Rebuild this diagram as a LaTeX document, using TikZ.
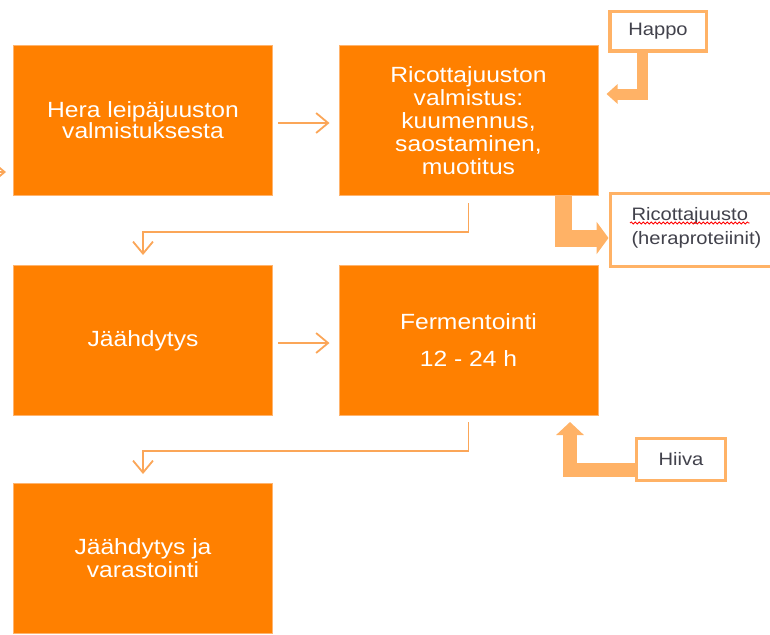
\documentclass[tikz,border=0pt]{standalone}
\usepackage{fontspec}
\setmainfont{Liberation Sans}
\newfontfamily\boxfont[FakeStretch=1.12]{Liberation Sans}
\usetikzlibrary{arrows.meta,decorations.pathmorphing}

\definecolor{boxorange}{RGB}{255,128,0}
\definecolor{boxedge}{RGB}{255,180,110}
\definecolor{flowline}{RGB}{251,166,88}
\definecolor{blockline}{RGB}{255,178,102}
\definecolor{labeltext}{RGB}{66,66,76}

\begin{document}
\begin{tikzpicture}[x=1pt,y=-1pt]

    \tikzset{
      stepbox/.style={
        draw=boxedge,
        fill=boxorange,
        line width=1pt,
        minimum width=259pt,
        minimum height=150pt,
        inner sep=0pt,
        align=center,
        text=white,
        font=\boxfont\fontsize{22}{23}\selectfont,
      },
      inputbox/.style={
        draw=blockline,
        fill=white,
        line width=3pt,
        inner sep=0pt,
        text=labeltext,
        font=\boxfont\fontsize{18}{20}\selectfont,
      },
      flow/.style={
        draw=flowline,
        line width=1.8pt,
        -{Straight Barb[length=12pt,width=20pt]},
      },
      block/.style={
        draw=blockline,
        line join=miter,
      },
    }
    \useasboundingbox (0,0) rectangle (770,634);

    % process steps
    \node[stepbox] (hera) at (143,120.5) {Hera leipäjuuston\\[-2pt]valmistuksesta};
    \node[stepbox] (ricotta) at (468.5,120.5) {Ricottajuuston\\valmistus:\\kuumennus,\\saostaminen,\\muotitus};
    \node[stepbox] (cooling) at (143,340.5) {Jäähdytys};
    \node[stepbox] (ferment) at (468.5,340.5) {Fermentointi\\[14pt]12 - 24 h};
    \node[stepbox] (storage) at (143,558.5) {Jäähdytys ja\\varastointi};

    % inputs and outputs
    \node[inputbox, line width=3.5pt, minimum width=96.5pt, minimum height=39.5pt] (acid) at (658,31.5) {Happo};
    \node[inputbox, minimum width=180pt, minimum height=73pt] (product) at (700,230) {};
    \node[inputbox, draw=none, fill=none, anchor=base west] (ricname) at (630,220) {Ricottajuusto};
    \node[inputbox, draw=none, fill=none, anchor=base west] (ricsub) at (630,244) {(heraproteiinit)};
    \node[inputbox, minimum width=89pt, minimum height=42pt] (yeast) at (681,459.5) {Hiiva};

    \draw[red, line width=0.8pt, decorate, decoration={snake, amplitude=1.1pt, segment length=4pt}]
      ([yshift=-3pt]ricname.base west) -- ([yshift=-3pt]ricname.base east);

    % main flow
    \coordinate (feed) at (-40,172);
    \draw[flow, shorten >=7pt] (feed) -- (feed -| hera.west);
    \draw[flow, shorten <=5pt, shorten >=9pt] ([yshift=-2.5pt]hera.east) -- ([yshift=-2.5pt]ricotta.west);
    \draw[flow, shorten <=5pt, shorten >=9pt] ([yshift=-2.5pt]cooling.east) -- ([yshift=-2.5pt]ferment.west);
    \draw[flow] ([yshift=-7pt]ricotta.south) -- ++(0,29) -| ([yshift=10pt]cooling.north);
    \draw[flow] ([yshift=-6pt]ferment.south) -- ++(0,29) -| ([yshift=9pt]storage.north);

    % side arrows
    \draw[block, line width=11pt, -{Triangle[length=11pt,width=19pt]}, shorten >=8pt]
      ([xshift=-16pt]acid.south) |- ([yshift=26.5pt]ricotta.east);
    \draw[block, line width=17pt, -{Triangle[length=12pt,width=32pt]}]
      ([xshift=94.5pt]ricotta.south) |- ([yshift=-8pt]product.west);
    \draw[block, line width=14pt, -{Triangle[length=13pt,width=27pt]}]
      ([yshift=-10.5pt]yeast.west) -| ([xshift=101.5pt,yshift=-6pt]ferment.south);

\end{tikzpicture}
\end{document}
